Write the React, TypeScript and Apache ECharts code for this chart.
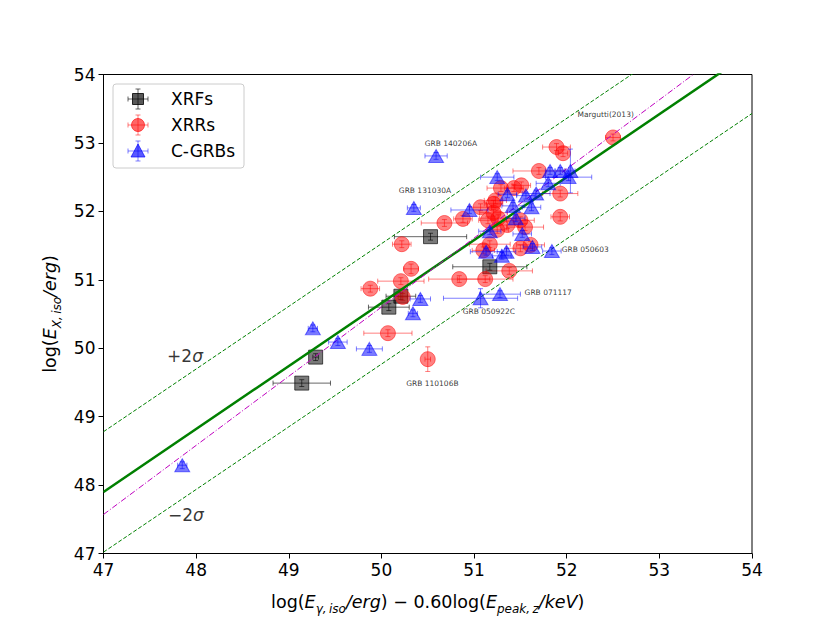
import React, { useEffect, useRef } from "react";
import * as echarts from "echarts";

// [x, y, xerr, yerr]
const xrfPoints: number[][] = [
  [49.14, 49.49, 0.31, 0.05],
  [49.29, 49.87, 0.03, 0.05],
  [50.08, 50.6, 0.22, 0.05],
  [50.21, 50.76, 0.16, 0.05],
  [50.53, 51.63, 0.39, 0.05],
  [51.17, 51.19, 0.4, 0.05],
];

const xrrPoints: number[][] = [
  [52.5, 53.08, 0.08, 0.05],
  [51.89, 52.94, 0.15, 0.05],
  [51.96, 52.85, 0.05, 0.05],
  [51.7, 52.59, 0.28, 0.05],
  [51.51, 52.38, 0.1, 0.05],
  [51.43, 52.34, 0.1, 0.05],
  [51.29, 52.34, 0.15, 0.05],
  [51.93, 52.26, 0.19, 0.05],
  [51.23, 52.16, 0.12, 0.05],
  [51.07, 52.06, 0.12, 0.05],
  [51.21, 52.11, 0.1, 0.05],
  [50.88, 51.89, 0.1, 0.05],
  [50.68, 51.83, 0.25, 0.05],
  [51.93, 51.92, 0.1, 0.06],
  [51.21, 51.98, 0.15, 0.05],
  [51.26, 51.9, 0.2, 0.05],
  [51.36, 51.8, 0.12, 0.05],
  [51.5, 51.87, 0.15, 0.05],
  [51.55, 51.77, 0.2, 0.05],
  [51.15, 51.87, 0.1, 0.05],
  [51.25, 51.73, 0.12, 0.05],
  [50.22, 51.52, 0.1, 0.05],
  [51.17, 51.52, 0.22, 0.05],
  [51.5, 51.46, 0.15, 0.05],
  [51.61, 51.51, 0.15, 0.05],
  [51.1, 51.43, 0.12, 0.05],
  [50.32, 51.16, 0.08, 0.07],
  [51.38, 51.13, 0.25, 0.05],
  [50.21, 50.98, 0.25, 0.05],
  [50.84, 51.01, 0.33, 0.05],
  [51.12, 51.01, 0.3, 0.05],
  [49.88, 50.87, 0.1, 0.05],
  [50.23, 50.75, 0.05, 0.05],
  [50.07, 50.22, 0.26, 0.05],
  [50.5, 49.84, 0.03, 0.18],
];

const cgrbPoints: number[][] = [
  [47.85, 48.29, 0.05, 0.05],
  [49.26, 50.29, 0.05, 0.05],
  [49.53, 50.09, 0.1, 0.05],
  [49.87, 49.99, 0.14, 0.05],
  [50.34, 50.51, 0.05, 0.05],
  [50.42, 50.72, 0.11, 0.05],
  [50.35, 52.05, 0.07, 0.05],
  [50.59, 52.81, 0.12, 0.05],
  [51.25, 52.5, 0.18, 0.05],
  [51.82, 52.59, 0.05, 0.05],
  [51.93, 52.59, 0.05, 0.05],
  [52.04, 52.59, 0.05, 0.32],
  [52.02, 52.5, 0.25, 0.05],
  [51.8, 52.41, 0.13, 0.05],
  [51.36, 52.25, 0.1, 0.05],
  [51.56, 52.23, 0.1, 0.05],
  [51.67, 52.26, 0.15, 0.05],
  [50.95, 52.02, 0.2, 0.05],
  [51.42, 52.08, 0.12, 0.05],
  [51.62, 52.06, 0.1, 0.05],
  [51.45, 51.9, 0.1, 0.05],
  [51.17, 51.71, 0.12, 0.05],
  [51.52, 51.67, 0.1, 0.05],
  [51.63, 51.48, 0.1, 0.05],
  [51.84, 51.42, 0.1, 0.05],
  [51.13, 51.41, 0.17, 0.05],
  [51.3, 51.35, 0.1, 0.05],
  [51.35, 51.41, 0.1, 0.05],
  [51.07, 50.73, 0.4, 0.14],
  [51.28, 50.79, 0.22, 0.05],
];

// relation lines: [x, y] end points
const fitLine = [[47, 47.9], [54, 54.34]];
const upperLine = [[47, 48.78], [54, 55.19]];
const lowerLine = [[47, 47.02], [54, 53.43]];
const marguttiLine = [[47, 47.57], [54, 54.64]];

const grbLabels = [
  { name: "GRB 140206A", value: [50.75, 52.99] },
  { name: "GRB 131030A", value: [50.47, 52.31] },
  { name: "Margutti(2013)", value: [52.42, 53.41] },
  { name: "GRB 050603", value: [52.2, 51.44] },
  { name: "GRB 071117", value: [51.8, 50.81] },
  { name: "GRB 050922C", value: [51.16, 50.53] },
  { name: "GRB 110106B", value: [50.55, 49.48] },
];
const sigmaLabels = [
  { name: "+2", value: [47.88, 49.88] },
  { name: "−2", value: [47.89, 47.56] },
];

const xTicks = [47, 48, 49, 50, 51, 52, 53, 54];
const yTicks = [47, 48, 49, 50, 51, 52, 53, 54];

const FONT = "DejaVu Sans";

function errSeries(name: string, pts: number[][], color: string, z: number) {
  return {
    type: "custom",
    name,
    z,
    silent: true,
    clip: true,
    data: pts,
    encode: { x: 0, y: 1 },
    renderItem: (_p: any, api: any) => {
      const x = api.value(0);
      const y = api.value(1);
      const ex = api.value(2);
      const ey = api.value(3);
      const l = api.coord([x - ex, y]);
      const r = api.coord([x + ex, y]);
      const t = api.coord([x, y + ey]);
      const b = api.coord([x, y - ey]);
      const cap = 2.5;
      const style = { stroke: color, lineWidth: 1, fill: null };
      const ln = (x1: number, y1: number, x2: number, y2: number) => ({
        type: "line",
        shape: { x1, y1, x2, y2 },
        style,
      });
      return {
        type: "group",
        children: [
          ln(l[0], l[1], r[0], r[1]),
          ln(l[0], l[1] - cap, l[0], l[1] + cap),
          ln(r[0], r[1] - cap, r[0], r[1] + cap),
          ln(t[0], t[1], b[0], b[1]),
          ln(t[0] - cap, t[1], t[0] + cap, t[1]),
          ln(b[0] - cap, b[1], b[0] + cap, b[1]),
        ],
      };
    },
  };
}

function lineSeries(data: number[][], color: string, width: number, type: any, z: number) {
  return {
    type: "line",
    data,
    z,
    clip: true,
    silent: true,
    symbol: "none",
    lineStyle: { color, width, type },
  };
}

function legendItem(i: number, label: string, marker: any, barColor: string) {
  const cx = 138;
  const cy = 99 + 26 * i;
  const s = { stroke: barColor, lineWidth: 1 };
  return [
    { type: "line", shape: { x1: cx - 10, y1: cy, x2: cx + 10, y2: cy }, style: s, z: 101 },
    { type: "line", shape: { x1: cx - 10, y1: cy - 2.5, x2: cx - 10, y2: cy + 2.5 }, style: s, z: 101 },
    { type: "line", shape: { x1: cx + 10, y1: cy - 2.5, x2: cx + 10, y2: cy + 2.5 }, style: s, z: 101 },
    { type: "line", shape: { x1: cx, y1: cy - 10, x2: cx, y2: cy + 10 }, style: s, z: 101 },
    { type: "line", shape: { x1: cx - 2.5, y1: cy - 10, x2: cx + 2.5, y2: cy - 10 }, style: s, z: 101 },
    { type: "line", shape: { x1: cx - 2.5, y1: cy + 10, x2: cx + 2.5, y2: cy + 10 }, style: s, z: 101 },
    { ...marker(cx, cy), z: 102 },
    {
      type: "text",
      x: 171,
      y: cy,
      z: 102,
      style: { text: label, font: `17px '${FONT}'`, fill: "#000", verticalAlign: "middle" },
    },
  ];
}

const nameRich = {
  n: { fontSize: 17.5, fontFamily: FONT, lineHeight: 26, color: "#000" },
  i: { fontSize: 17.5, fontFamily: FONT, fontStyle: "italic", lineHeight: 26, color: "#000" },
  s: {
    fontSize: 12,
    fontFamily: FONT,
    fontStyle: "italic",
    lineHeight: 13,
    verticalAlign: "bottom",
    color: "#000",
  },
};

export default function App() {
  const ref = useRef<HTMLDivElement>(null);
  useEffect(() => {
    document.body.style.margin = "0";
    const chart = echarts.init(ref.current!, null, { renderer: "svg" });
    const axisCommon = {
      min: 47,
      max: 54,
      interval: 1,
      splitLine: { show: false },
      axisLine: { show: true, onZero: false, lineStyle: { color: "#000", width: 1 } },
      axisTick: { show: true, inside: false, length: 5, lineStyle: { color: "#000" } },
      nameLocation: "middle",
    };
    const option: any = {
      animation: false,
      textStyle: { fontFamily: FONT },
      grid: {
        left: 103.5,
        top: 74.5,
        width: 648.5,
        height: 479,
        show: true,
        borderColor: "#000",
        borderWidth: 1,
        backgroundColor: "transparent",
      },
      xAxis: {
        ...axisCommon,
        type: "value",
        axisLabel: {
          fontSize: 17,
          color: "#000",
          margin: 8,
          fontFamily: FONT,
          formatter: (v: number) => (xTicks.includes(v) ? String(v) : ""),
        },
        nameGap: 35,
        name:
          "{n|log(}{i|E}{s|γ,\u2009iso}{i|/erg}{n|) − 0.60log(}{i|E}{s|peak,\u2009z}{i|/keV}{n|)}",
        nameTextStyle: { rich: nameRich },
      },
      yAxis: {
        ...axisCommon,
        type: "value",
        axisLabel: {
          fontSize: 17,
          color: "#000",
          margin: 8,
          fontFamily: FONT,
          formatter: (v: number) => (yTicks.includes(v) ? String(v) : ""),
        },
        nameGap: 37,
        name: "{n|log(}{i|E}{s|X,\u2009iso}{i|/erg}{n|)}",
        nameTextStyle: { rich: nameRich },
      },
      series: [
        errSeries("xrf-err", xrfPoints, "rgba(0,0,0,0.6)", 2),
        {
          type: "scatter",
          name: "XRFs",
          z: 3,
          data: xrfPoints.map((p) => [p[0], p[1]]),
          symbol: "rect",
          symbolSize: 14,
          itemStyle: { color: "rgba(0,0,0,0.65)", borderColor: "rgba(0,0,0,0.8)", borderWidth: 1 },
        },
        errSeries("xrr-err", xrrPoints, "rgba(255,0,0,0.5)", 2),
        {
          type: "scatter",
          name: "XRRs",
          z: 3,
          data: xrrPoints.map((p) => [p[0], p[1]]),
          symbol: "circle",
          symbolSize: 15,
          itemStyle: { color: "rgba(255,0,0,0.62)", borderColor: "rgba(255,0,0,0.62)", borderWidth: 1 },
        },
        lineSeries(fitLine, "#008000", 2.5, "solid", 4),
        lineSeries(upperLine, "#008000", 1, [4, 2], 4),
        lineSeries(lowerLine, "#008000", 1, [4, 2], 4),
        lineSeries(marguttiLine, "#bf00bf", 1, [6, 2, 1, 2], 4),
        errSeries("cgrb-err", cgrbPoints, "rgba(0,0,255,0.5)", 5),
        {
          type: "scatter",
          name: "C-GRBs",
          z: 6,
          data: cgrbPoints.map((p) => [p[0], p[1]]),
          symbol: "triangle",
          symbolSize: [15, 13],
          itemStyle: { color: "rgba(0,0,255,0.65)", borderColor: "rgba(0,0,255,0.65)", borderWidth: 1 },
        },
        {
          type: "scatter",
          z: 7,
          silent: true,
          symbolSize: 0,
          data: grbLabels,
          label: {
            show: true,
            position: "inside",
            formatter: "{b}",
            fontSize: 7.5,
            fontFamily: FONT,
            color: "#000",
          },
        },
        {
          type: "scatter",
          z: 7,
          silent: true,
          symbolSize: 0,
          data: sigmaLabels,
          label: {
            show: true,
            position: "inside",
            formatter: "{n|{b}}{i|σ}",
            rich: {
              n: { fontSize: 17, fontFamily: FONT, color: "#000" },
              i: { fontSize: 17, fontFamily: FONT, fontStyle: "italic", color: "#000" },
            },
          },
        },
      ],
      graphic: [
        {
          type: "rect",
          z: 100,
          shape: { x: 113, y: 84, width: 131, height: 84, r: 3 },
          style: { fill: "rgba(255,255,255,0.8)", stroke: "#cccccc", lineWidth: 1 },
        },
        ...legendItem(
          0,
          "XRFs",
          (cx: number, cy: number) => ({
            type: "rect",
            shape: { x: cx - 5.5, y: cy - 5.5, width: 11, height: 11 },
            style: { fill: "rgba(0,0,0,0.65)", stroke: "rgba(0,0,0,0.8)", lineWidth: 1 },
          }),
          "rgba(0,0,0,0.6)"
        ),
        ...legendItem(
          1,
          "XRRs",
          (cx: number, cy: number) => ({
            type: "circle",
            shape: { cx, cy, r: 6.5 },
            style: { fill: "rgba(255,0,0,0.6)", stroke: "rgba(255,0,0,0.6)", lineWidth: 1 },
          }),
          "rgba(255,0,0,0.5)"
        ),
        ...legendItem(
          2,
          "C-GRBs",
          (cx: number, cy: number) => ({
            type: "polygon",
            shape: { points: [[cx, cy - 7], [cx + 7, cy + 6], [cx - 7, cy + 6]] },
            style: { fill: "rgba(0,0,255,0.65)", stroke: "rgba(0,0,255,0.65)", lineWidth: 1 },
          }),
          "rgba(0,0,255,0.5)"
        ),
      ],
    };
    chart.setOption(option);
    return () => chart.dispose();
  }, []);
  return <div ref={ref} style={{ width: 830, height: 623 }} />;
}
